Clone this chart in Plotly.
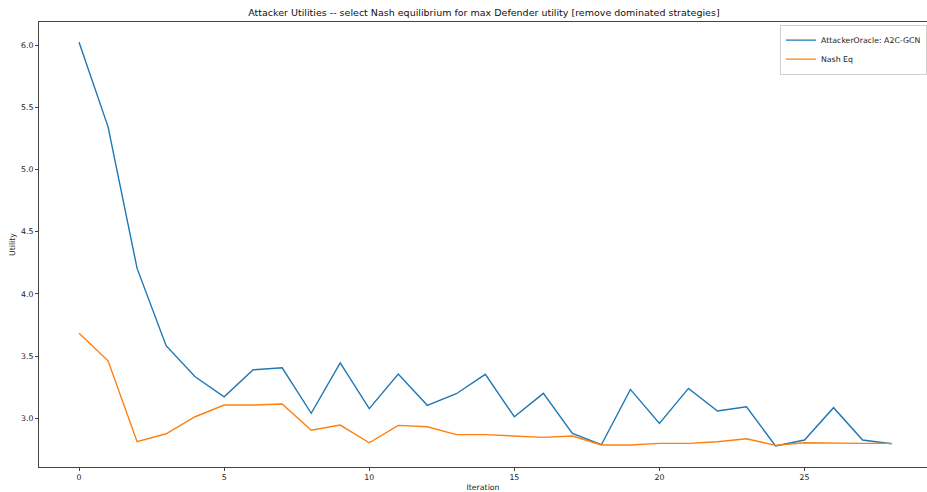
import plotly.graph_objects as go

# Per-iteration attacker utilities
iterations = list(range(29))
attacker_oracle = [6.024, 5.343, 4.205, 3.583, 3.334, 3.173, 3.390, 3.406, 3.040,
                   3.446, 3.077, 3.355, 3.104, 3.197, 3.353, 3.012, 3.200, 2.878,
                   2.787, 3.232, 2.959, 3.240, 3.058, 3.092, 2.777, 2.825, 3.085,
                   2.825, 2.795]
nash_eq = [3.683, 3.462, 2.811, 2.875, 3.012, 3.106, 3.106, 3.114, 2.903,
           2.945, 2.803, 2.943, 2.932, 2.868, 2.868, 2.854, 2.846, 2.857,
           2.785, 2.785, 2.798, 2.798, 2.811, 2.835, 2.782, 2.803, 2.798,
           2.798, 2.798]

y_ticks = [3.0, 3.5, 4.0, 4.5, 5.0, 5.5, 6.0]
x_ticks = [0, 5, 10, 15, 20, 25]

FONT = "DejaVu Sans"
TXT = "#222222"

fig = go.Figure()
fig.add_trace(go.Scatter(x=iterations, y=attacker_oracle, mode="lines",
                         name="AttackerOracle: A2C-GCN",
                         line=dict(color="#1f77b4", width=1.4)))
fig.add_trace(go.Scatter(x=iterations, y=nash_eq, mode="lines",
                         name="Nash Eq",
                         line=dict(color="#ff7f0e", width=1.4)))

axis_common = dict(showgrid=False, zeroline=False, showline=True,
                   linecolor="#444444", linewidth=1, ticks="outside",
                   ticklen=3, tickwidth=1, tickcolor="#444444",
                   tickfont=dict(family=FONT, size=7.8, color=TXT))

fig.update_layout(
    width=927, height=492,
    margin=dict(l=39, r=0, t=22, b=25),
    paper_bgcolor="white", plot_bgcolor="white",
    title=dict(text="Attacker Utilities -- select Nash equilibrium for max Defender utility [remove dominated strategies]",
               x=0.522, xanchor="center", y=0.974, yanchor="middle",
               font=dict(family=FONT, size=9.5, color="#111111")),
    xaxis=dict(range=[-1.38, 29.22], tickvals=x_ticks, mirror=True,
               title=dict(text="Iteration", standoff=4,
                          font=dict(family=FONT, size=7.8, color=TXT)),
               **axis_common),
    yaxis=dict(range=[2.608, 6.186], tickvals=y_ticks, tickformat=".1f",
               title=dict(text="Utility", standoff=4,
                          font=dict(family=FONT, size=7.8, color=TXT)),
               **axis_common),
    legend=dict(x=1.0, xanchor="right", y=0.994, yanchor="top",
                bgcolor="rgba(255,255,255,0.8)", bordercolor="#d0d0d0",
                borderwidth=1, font=dict(family=FONT, size=7.8, color=TXT),
                tracegroupgap=0),
    showlegend=True,
)

fig.write_html("out.html")
